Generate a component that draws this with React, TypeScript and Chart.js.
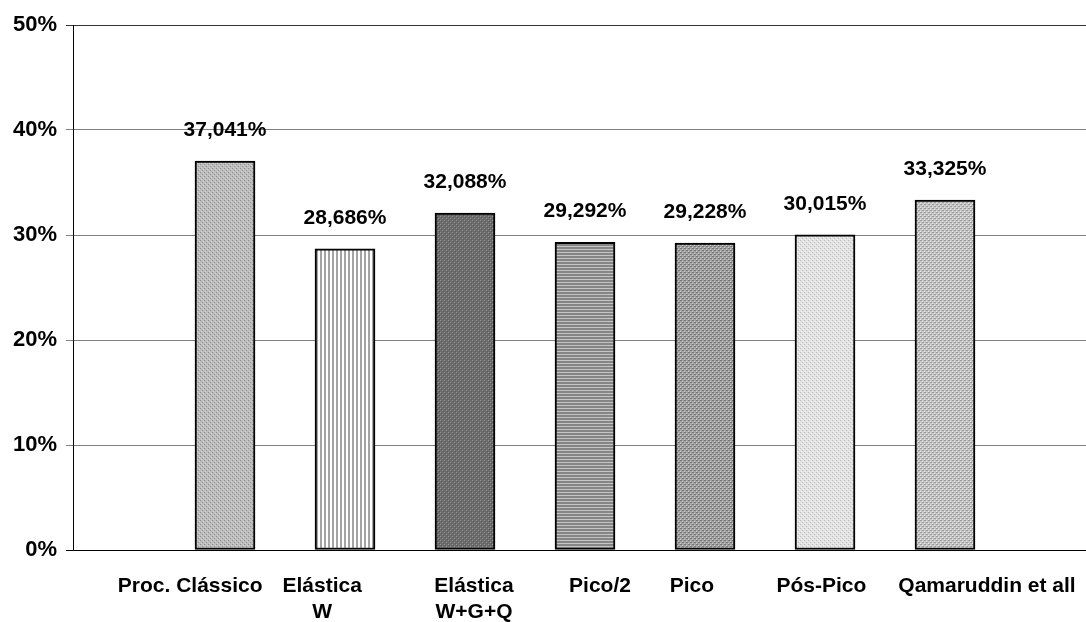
import React, { useEffect, useRef } from "react";
import { Chart, registerables } from "chart.js";

Chart.register(...registerables);

// Methods compared and their percentage results
const methods: (string | string[])[] = [
  "Proc. Clássico",
  ["Elástica", "W"],
  ["Elástica", "W+G+Q"],
  "Pico/2",
  "Pico",
  "Pós-Pico",
  "Qamaruddin et all",
];
const percentages: number[] = [37.041, 28.686, 32.088, 29.292, 29.228, 30.015, 33.325];
const yTicks: number[] = [0, 10, 20, 30, 40, 50];

// Horizontal nudge of each category caption, in category widths, so long names do not collide
const captionNudge: number[] = [-0.29, -0.19, 0.075, 0.125, -0.11, -0.03, 0.35];

const FONT = "'Liberation Sans', Arial, Helvetica, sans-serif";

// Small monochrome tiles used as hatch fills for the bars
function tile(w: number, h: number, bg: string, dots: [number, number, string][]): CanvasPattern | string {
  const c = document.createElement("canvas");
  c.width = w;
  c.height = h;
  const g = c.getContext("2d");
  if (!g) return bg;
  g.fillStyle = bg;
  g.fillRect(0, 0, w, h);
  for (const [x, y, col] of dots) {
    g.fillStyle = col;
    g.fillRect(x, y, 1, 1);
  }
  return g.createPattern(c, "repeat") || bg;
}

function buildFills(): (CanvasPattern | string)[] {
  return [
    // fine light dots
    tile(4, 4, "#bcbcbc", [[0, 0, "#8e8e8e"], [2, 2, "#8e8e8e"], [1, 3, "#d4d4d4"], [3, 1, "#d4d4d4"]]),
    // vertical stripes
    tile(4, 1, "#ffffff", [[0, 0, "#a4a4a4"], [1, 0, "#a4a4a4"]]),
    // dark dots
    tile(4, 4, "#6c6c6c", [[0, 0, "#969696"], [2, 2, "#969696"], [1, 1, "#555555"], [3, 3, "#555555"]]),
    // horizontal stripes
    tile(1, 3, "#858585", [[0, 0, "#c4c4c4"]]),
    // medium checker
    tile(4, 4, "#a2a2a2", [[0, 0, "#777777"], [1, 0, "#777777"], [2, 2, "#777777"], [3, 2, "#777777"], [0, 3, "#cccccc"], [2, 1, "#cccccc"]]),
    // very light dots
    tile(4, 4, "#e2e2e2", [[0, 0, "#bdbdbd"], [2, 2, "#bdbdbd"], [1, 3, "#f4f4f4"], [3, 1, "#f4f4f4"]]),
    // light checker
    tile(4, 4, "#c6c6c6", [[0, 0, "#9c9c9c"], [1, 0, "#9c9c9c"], [2, 2, "#9c9c9c"], [3, 2, "#9c9c9c"], [0, 3, "#e6e6e6"], [2, 1, "#e6e6e6"]]),
  ];
}

// Writes each bar's value (comma decimal) above it
const valueLabels = {
  id: "valueLabels",
  afterDatasetsDraw(chart: Chart) {
    const { ctx } = chart;
    const meta = chart.getDatasetMeta(0);
    ctx.save();
    ctx.font = `bold 21px ${FONT}`;
    ctx.fillStyle = "#000";
    ctx.textAlign = "center";
    ctx.textBaseline = "middle";
    meta.data.forEach((bar: any, i: number) => {
      const text = percentages[i].toFixed(3).replace(".", ",") + "%";
      ctx.fillText(text, bar.x, bar.y - 31);
    });
    ctx.restore();
  },
};

export default function App() {
  const ref = useRef<HTMLCanvasElement | null>(null);

  useEffect(() => {
    if (!ref.current) return;
    const chart = new Chart(ref.current, {
      type: "bar",
      data: {
        datasets: [
          {
            data: percentages.map((v, i) => ({ x: i, y: v })),
            backgroundColor: buildFills() as any,
            borderColor: "#000",
            borderWidth: 2,
            borderSkipped: false,
            barThickness: 60,
          },
        ],
      },
      options: {
        animation: false,
        responsive: false,
        layout: { padding: { top: 25, right: 0, bottom: 0, left: 0 } },
        plugins: {
          legend: { display: false },
          tooltip: { enabled: false },
        },
        scales: {
          x: {
            type: "linear",
            offset: false,
            min: -1.2667,
            max: 7.175,
            afterBuildTicks: (scale: any) => {
              scale.ticks = methods.map((_, i) => ({ value: i + captionNudge[i] }));
            },
            afterFit: (scale: any) => {
              scale.height = 72;
              scale.paddingLeft = 0;
              scale.paddingRight = 0;
            },
            grid: { display: true, offset: false, color: "transparent", drawTicks: false },
            border: { display: true, color: "#000", width: 1 },
            ticks: {
              autoSkip: false,
              maxRotation: 0,
              minRotation: 0,
              padding: 24,
              color: "#000",
              font: { family: FONT, size: 21, weight: "bold", lineHeight: 1.2 },
              callback: (_v: any, idx: number) => methods[idx] ?? "",
            },
          },
          y: {
            min: 0,
            max: 50,
            afterBuildTicks: (scale: any) => {
              scale.ticks = yTicks.map((v) => ({ value: v }));
            },
            afterFit: (scale: any) => {
              scale.width = 73;
            },
            grid: {
              color: (c: any) => (c.tick && c.tick.value === 50 ? "#333333" : c.tick && c.tick.value === 0 ? "#000" : "#808080"),
              lineWidth: 1,
              drawTicks: true,
              tickLength: 7,
            },
            border: { display: true, color: "#000", width: 1 },
            ticks: {
              padding: 9,
              color: "#000",
              font: { family: FONT, size: 22, weight: "bold" },
              callback: (v: any) => `${v}%`,
            },
          },
        },
      },
      plugins: [valueLabels],
    });
    return () => chart.destroy();
  }, []);

  return (
    <div style={{ position: "absolute", left: 0, top: 0, width: 1086, height: 622, background: "#fff" }}>
      <canvas ref={ref} width={1086} height={622} />
    </div>
  );
}
